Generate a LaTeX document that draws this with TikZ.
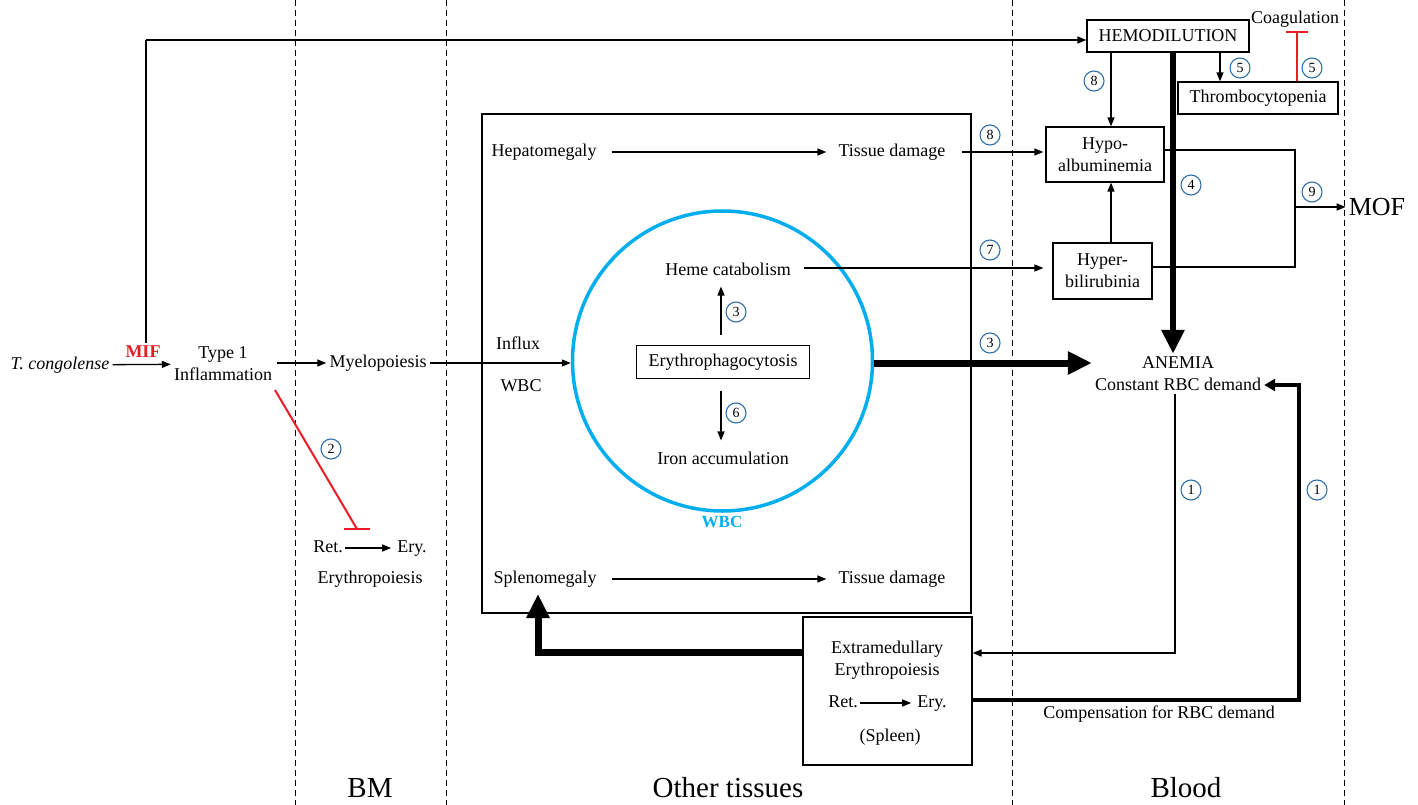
\documentclass[tikz,border=0pt]{standalone}
\usepackage{fontspec}
\setmainfont{Liberation Serif}
\usetikzlibrary{arrows.meta}
\definecolor{wbcblue}{RGB}{0,174,239}
\definecolor{numblue}{RGB}{46,112,172}
\definecolor{inhred}{RGB}{237,28,36}
\begin{document}
\begin{tikzpicture}[x=1pt,y=-1pt,
 every node/.style={font=\fontsize{18}{22}\selectfont, inner sep=3pt},
 box/.style={draw, line width=1.2pt, inner sep=0pt},
 num/.style={circle, draw=numblue, line width=1.1pt, inner sep=0pt, minimum size=20pt, font=\fontsize{14}{14}\selectfont},
 arr/.style={line width=1.3pt, -{Triangle[length=9pt,width=7pt]}},
 ln/.style={line width=1.3pt},
 thk/.style={line width=7pt, -{Triangle[length=24pt,width=22pt]}},
 medarr/.style={line width=3.5pt, -{Triangle[length=11pt,width=12pt]}},
 inh/.style={draw=inhred, line width=2pt},
 region/.style={line width=1pt, dash pattern=on 6pt off 4pt},
 big/.style={font=\fontsize{29}{32}\selectfont},
 flat/.style={text height=12pt, text depth=4pt},
]
\useasboundingbox (0,0) rectangle (1418,805);

% region separators
\draw[region] (295,0) -- (295,805);
\draw[region] (446,0) -- (446,805);
\draw[region] (1012,0) -- (1012,805);
\draw[region] (1344,0) -- (1344,805);

% region labels
\node[big] (lbm) at (370,788) {BM};
\node[big] (lot) at (728,788) {Other tissues};
\node[big] (lbl) at (1186,788) {Blood};

% left part
\node (tc) at (60,365) {\textit{T. congolense}};
\node[text=inhred, font=\fontsize{18}{22}\selectfont\bfseries] (mif) at (143,352) {MIF};
\node[align=center] (t1) at (223,364) {Type 1\\Inflammation};
\node (myelo) at (378,363) {Myelopoiesis};
\node[flat] (ret1) at (328,548) {Ret.};
\node[flat] (ery1) at (412,548) {Ery.};
\node (erypo1) at (370,579) {Erythropoiesis};

% other tissues box
\node[box, minimum width=489pt, minimum height=499pt] (otbox) at (726.5,363.5) {};
\node (hep) at (544,152) {Hepatomegaly};
\node (td1) at (892,152) {Tissue damage};
\node (spl) at (545,579) {Splenomegaly};
\node (td2) at (892,579) {Tissue damage};
\node (influx) at (518,343) {Influx};
\node (wbc) at (521,386) {WBC};

% WBC circle
\node[circle, draw=wbcblue, line width=3.5pt, minimum size=300pt, inner sep=0pt] (wbccirc) at (722.5,361) {};
\node (heme) at (728,269) {Heme catabolism};
\node[box, minimum width=173pt, minimum height=33pt] (eryph) at (723,362) {Erythrophagocytosis};
\node (iron) at (723,458) {Iron accumulation};
\node[text=wbcblue, font=\fontsize{17}{20}\selectfont\bfseries] (wbclab) at (722,522) {WBC};

% blood part
\node[box, minimum width=162pt, minimum height=32pt] (hemo) at (1168,36) {HEMODILUTION};
\node (coag) at (1295,19) {Coagulation};
\node[box, minimum width=160pt, minimum height=32pt] (thromb) at (1258,98) {Thrombocytopenia};
\node[box, minimum width=118pt, minimum height=55pt, align=center] (hypo) at (1105,154.5) {Hypo-\\albuminemia};
\node[box, minimum width=99pt, minimum height=56pt, align=center] (hyper) at (1102.5,271) {Hyper-\\bilirubinia};
\node[font=\fontsize{26}{28}\selectfont] (mof) at (1377,207) {MOF};
\node[align=center] (anemia) at (1178,374) {ANEMIA\\Constant RBC demand};
\node (comp) at (1159,714) {Compensation for RBC demand};

% extramedullary box
\node[box, minimum width=169pt, minimum height=148pt] (emb) at (887.5,691) {};
\node[align=center] (embt) at (887,660) {Extramedullary\\Erythropoiesis};
\node[flat] (ret2) at (843,703) {Ret.};
\node[flat] (ery2) at (932,703) {Ery.};
\node (spleen) at (890,737) {(Spleen)};

% coordinates
\coordinate (inhs) at (275,390);
\coordinate (inhe) at (357,529);
\coordinate (mofj1) at (1295,150);
\coordinate (mofj2) at (1295,267);
\coordinate (mofj) at (1295,207);
\coordinate (c1) at (1175,653);
\coordinate (c2) at (1299,700);
\coordinate (c3) at (538,652);
\coordinate (mifup) at (146,40);
\coordinate (coagbar) at (1297,32);

% connectors, left
\draw[arr] (tc) -- (t1);
\draw[ln] (mifup |- mif.north) -- (mifup);
\draw[arr] (mifup) -- (mifup -| hemo.west);
\draw[arr, shorten <=2pt] (t1.east |- myelo) -- (myelo);
\draw[inh] (inhs) -- (inhe);
\draw[inh] ([xshift=-13pt]inhe) -- ([xshift=13pt]inhe);
\draw[arr, shorten <=-1pt, shorten >=3pt] (ret1) -- (ery1);
\draw[arr] (myelo) -- (myelo -| wbccirc.west);

% connectors, other tissues
\draw[arr, shorten <=12pt, shorten >=9pt] (hep) -- (td1);
\draw[arr, shorten <=12pt, shorten >=9pt] (spl) -- (td2);
\draw[arr, shorten <=13pt, shorten >=2pt] (td1) -- (td1 -| hypo.west);
\draw[arr, shorten <=10pt, shorten >=9pt] (heme.east |- 0,268) -- (hyper.west |- 0,268);
\draw[arr, shorten <=10pt, shorten >=8pt] (eryph.north -| 721,0) -- (heme.south -| 721,0);
\draw[arr, shorten <=12pt, shorten >=8pt] (eryph.south -| 721,0) -- (iron.north -| 721,0);
\draw[thk] (wbccirc.east |- 0,363) -- (anemia.west |- 0,363);

% connectors, blood
\draw[thk, line width=6.5pt] (hemo.south -| 1173,0) -- (anemia.north -| 1173,0);
\draw[arr] (hemo.south -| 1111,0) -- (hypo.north -| 1111,0);
\draw[arr] (hemo.south -| 1220,0) -- (thromb.north -| 1220,0);
\draw[inhred, line width=2pt] (thromb.north -| coagbar) -- (coagbar);
\draw[inhred, line width=2.5pt] ([xshift=-11pt]coagbar) -- ([xshift=11pt]coagbar);
\draw[arr] (hyper.north -| 1111,0) -- (hypo.south -| 1111,0);
\draw[ln] (hypo.east |- mofj1) -- (mofj1) -- (mofj2) -- (hyper.east |- mofj2);
\draw[arr] (mofj) -- (mofj -| mof.west);
\draw[arr] (anemia.south -| c1) -- (c1) -- (c1 -| emb.east);
\draw[medarr] (c2 -| emb.east) -- (c2) |- ([yshift=-11pt]anemia.east);
\draw[thk] (c3 -| emb.west) -- (c3) -- (c3 |- 0,594);
\draw[arr, shorten <=-1pt, shorten >=3pt] (ret2) -- (ery2);

% circled step numbers
\node[num] (n2) at (331,449) {2};
\node[num] (n3a) at (736,312) {3};
\node[num] (n6) at (736,413) {6};
\node[num] (n3b) at (990,343) {3};
\node[num] (n7) at (990,250) {7};
\node[num] (n8a) at (990,135) {8};
\node[num] (n8b) at (1094,81) {8};
\node[num] (n5a) at (1240,68) {5};
\node[num] (n5b) at (1312,68) {5};
\node[num] (n4) at (1191,185) {4};
\node[num] (n9) at (1312,192) {9};
\node[num] (n1a) at (1191,490) {1};
\node[num] (n1b) at (1317,490) {1};
\end{tikzpicture}
\end{document}
